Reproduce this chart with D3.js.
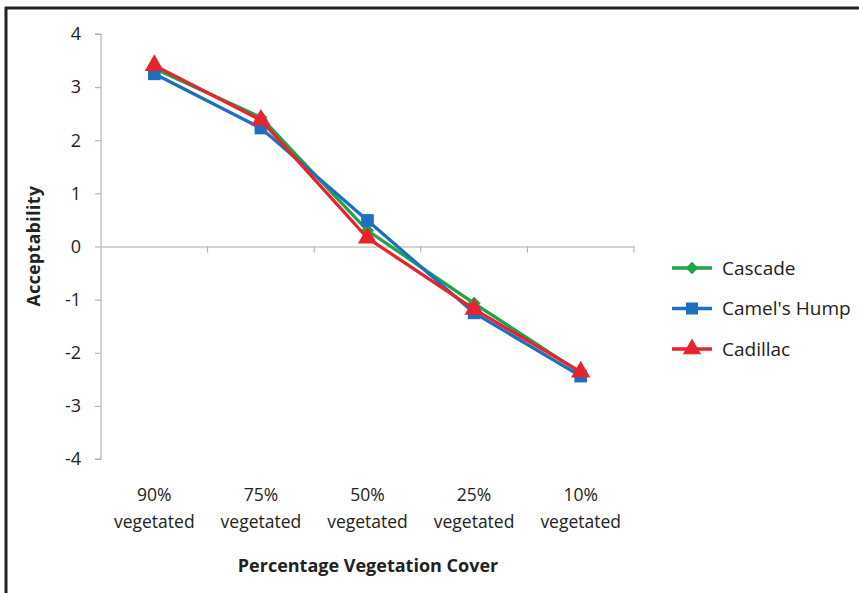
<!DOCTYPE html>
<html><head><meta charset="utf-8">
<script src="https://cdn.jsdelivr.net/npm/d3@7"></script>
<style>
html,body{margin:0;padding:0;background:#fff;}
text{font-family:"Open Sans",Lato,sans-serif;fill:#222;}
</style></head>
<body><svg id="c" width="859" height="593"></svg>
<script>
const categories = ["90%|vegetated","75%|vegetated","50%|vegetated","25%|vegetated","10%|vegetated"];
const seriesNames = ["Cascade","Camel's Hump","Cadillac"];
const cascade = [3.35, 2.43, 0.30, -1.07, -2.38];
const camelsHump = [3.25, 2.23, 0.49, -1.25, -2.44];
const cadillac = [3.41, 2.38, 0.16, -1.18, -2.36];
const yTicks = [-4,-3,-2,-1,0,1,2,3,4];
const colors = ["#22a34a","#1f6fc1","#e8232b"];
const symbols = [d3.symbolDiamond2, d3.symbolSquare, d3.symbolTriangle];
const symSizes = [110, 160, 160];

const svg = d3.select("#c");
// frame
svg.append("line").attr("x1",5).attr("x2",859).attr("y1",8).attr("y2",8).attr("stroke","#222").attr("stroke-width",3);
svg.append("line").attr("x1",6).attr("x2",6).attr("y1",7).attr("y2",593).attr("stroke","#222").attr("stroke-width",3);

const x = d3.scaleBand().domain(categories).range([101,634]);
const y = d3.scaleLinear().domain([-4,4]).range([459,34]);

// y axis
const ya = svg.append("g").attr("transform","translate(101,0)")
  .call(d3.axisLeft(y).tickValues(yTicks).tickSize(6).tickPadding(14).tickFormat(d=>String(d)));
ya.select(".domain").attr("stroke","#aaa").attr("d","M-6,34H0V459H-6");
ya.selectAll(".tick line").attr("stroke","#aaa");
ya.selectAll(".tick text").style("font-size","18px").style("font-family","'Open Sans',sans-serif").attr("fill","#222");

// x axis at zero
const xa = svg.append("g").attr("transform",`translate(0,${y(0)})`)
  .call(d3.axisBottom(x).tickSize(0).tickFormat(""));
xa.select(".domain").attr("stroke","#aaa");
const bounds = categories.map(c=>x(c)).concat([x.range()[1]]);
xa.selectAll("line.b").data(bounds.slice(1)).enter().append("line").attr("class","b")
  .attr("x1",d=>d).attr("x2",d=>d).attr("y1",0).attr("y2",6).attr("stroke","#aaa");

// category labels
const cl = svg.append("g");
categories.forEach(c=>{
  const parts = c.split("|");
  const cx = x(c)+x.bandwidth()/2;
  const t = cl.append("text").attr("x",cx).attr("text-anchor","middle").style("font-size","17.5px");
  t.append("tspan").attr("x",cx).attr("y",501).text(parts[0]);
  t.append("tspan").attr("x",cx).attr("y",528).text(parts[1]);
});

// axis titles
svg.append("text").attr("x",368).attr("y",572).attr("text-anchor","middle").style("font-size","18px").style("font-weight","bold").text("Percentage Vegetation Cover");
svg.append("text").attr("transform","translate(40,246) rotate(-90)").attr("text-anchor","middle").style("font-size","17.5px").style("font-weight","bold").style("letter-spacing","0.5px").text("Acceptability");

// series
const data = [cascade, camelsHump, cadillac];
const line = d3.line().x((d,i)=>x(categories[i])+x.bandwidth()/2).y(d=>y(d));
data.forEach((vals,k)=>{
  const g = svg.append("g");
  g.append("path").datum(vals).attr("d",line).attr("fill","none").attr("stroke",colors[k]).attr("stroke-width",3.3);
  g.selectAll("path.m").data(vals).enter().append("path").attr("class","m")
    .attr("d",d3.symbol().type(symbols[k]).size(symSizes[k]))
    .attr("transform",(d,i)=>`translate(${x(categories[i])+x.bandwidth()/2},${y(d)})`)
    .attr("fill",colors[k]);
});

// legend
const lg = svg.append("g");
seriesNames.forEach((n,k)=>{
  const yy = 268 + k*40.5;
  lg.append("line").attr("x1",672).attr("x2",712).attr("y1",yy).attr("y2",yy).attr("stroke",colors[k]).attr("stroke-width",3.3);
  lg.append("path").attr("d",d3.symbol().type(symbols[k]).size(symSizes[k]*0.9)).attr("transform",`translate(692,${yy})`).attr("fill",colors[k]);
  lg.append("text").attr("x",722).attr("y",yy+6.5).style("font-size","19px").text(n);
});
</script></body></html>
